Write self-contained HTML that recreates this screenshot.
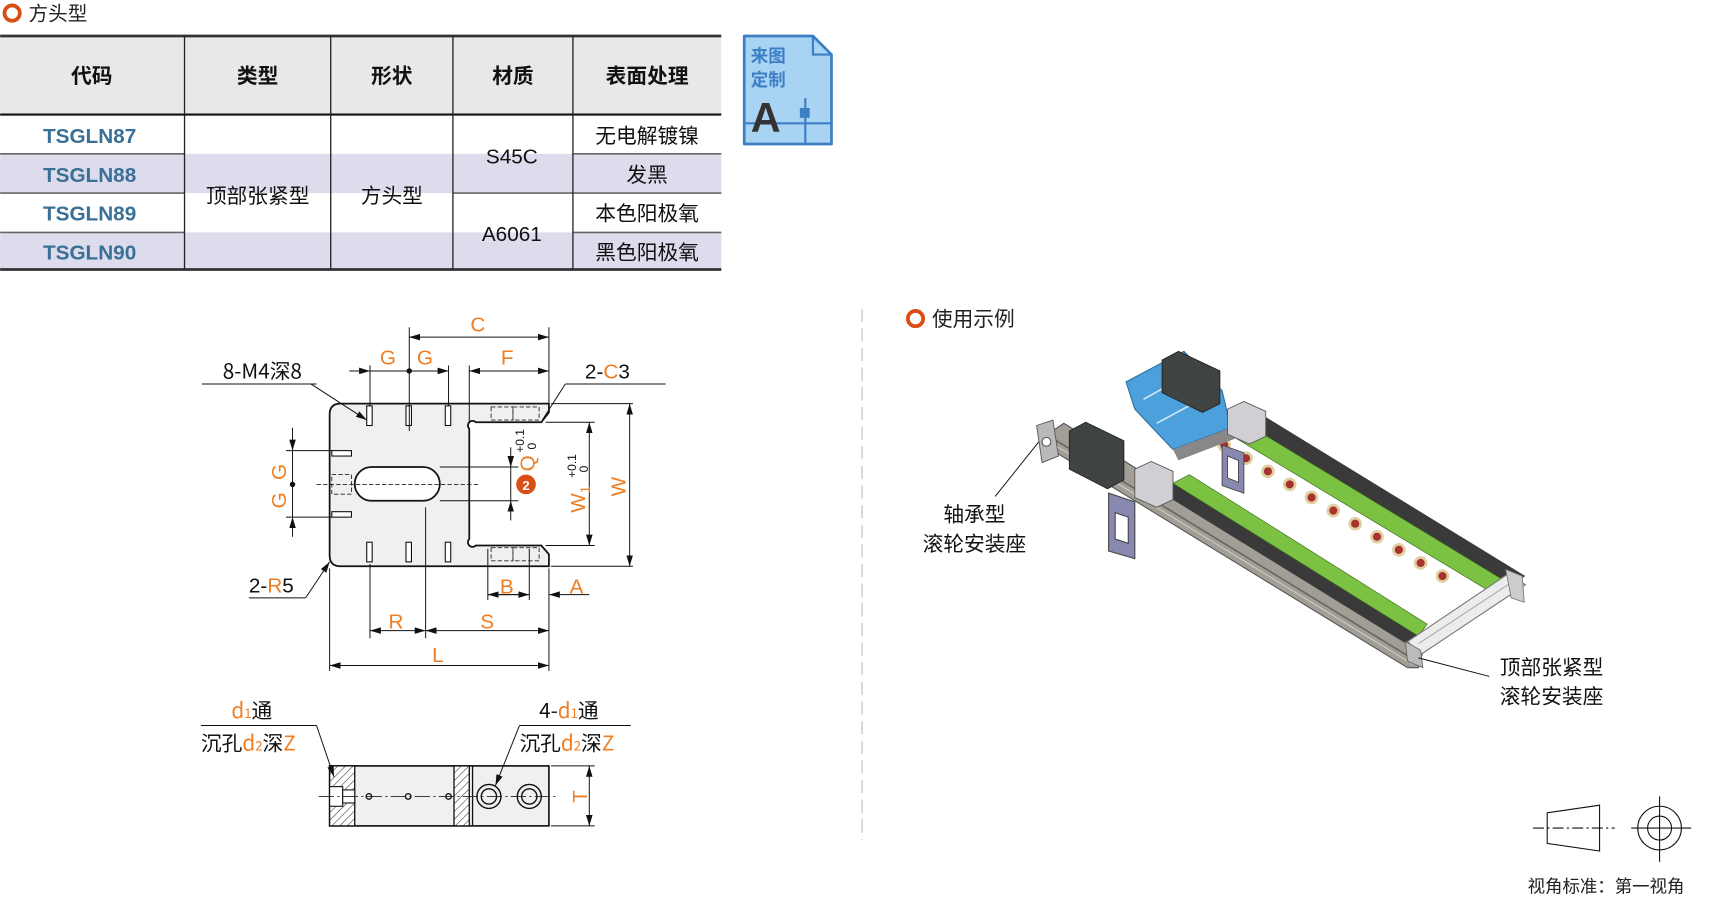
<!DOCTYPE html>
<html><head><meta charset="utf-8"><style>
html,body{margin:0;padding:0;background:#fff;}
svg{display:block;}
text{font-family:"Liberation Sans","Noto Sans CJK SC",sans-serif;}
.cj{font-family:"Noto Sans CJK SC","Liberation Sans",sans-serif;}
</style></head><body>
<svg width="1711" height="899" viewBox="0 0 1568 824" xmlns="http://www.w3.org/2000/svg">
<defs>
<pattern id="h" width="5" height="5" patternUnits="userSpaceOnUse" patternTransform="rotate(45)"><rect width="5" height="5" fill="#fff"/><line x1="0" y1="0" x2="0" y2="5" stroke="#333" stroke-width="1"/></pattern>
<marker id="a" markerWidth="10" markerHeight="6" refX="10" refY="3" orient="auto-start-reverse" markerUnits="userSpaceOnUse"><path d="M0,0 L10,3 L0,6 Z" fill="#111"/></marker>
</defs>
<!-- title -->
<circle cx="11" cy="12" r="7" fill="none" stroke="#d94e14" stroke-width="3.5"/>
<text x="26" y="19" class="cj" font-size="18" fill="#222">方头型</text>
<!-- table -->
<rect x="0" y="33" width="661" height="72" fill="#e8e8e8"/>
<rect x="0" y="141" width="661" height="36" fill="#dcdcec"/>
<rect x="0" y="213" width="661" height="34" fill="#dcdcec"/>
<line x1="0" y1="33" x2="661" y2="33" stroke="#333" stroke-width="2.5"/>
<line x1="0" y1="105" x2="661" y2="105" stroke="#111" stroke-width="2"/>
<line x1="0" y1="247" x2="661" y2="247" stroke="#333" stroke-width="2.5"/>
<g stroke="#666" stroke-width="1.5">
<line x1="0" y1="141" x2="169" y2="141"/><line x1="0" y1="177" x2="169" y2="177"/><line x1="0" y1="213" x2="169" y2="213"/>
<line x1="525" y1="141" x2="661" y2="141"/><line x1="525" y1="177" x2="661" y2="177"/><line x1="525" y1="213" x2="661" y2="213"/>
<line x1="415" y1="177" x2="525" y2="177"/>
</g>
<g stroke="#222" stroke-width="1.2">
<line x1="169" y1="33" x2="169" y2="247"/><line x1="303" y1="33" x2="303" y2="247"/><line x1="415" y1="33" x2="415" y2="247"/><line x1="525" y1="33" x2="525" y2="247"/>
</g>
<g class="cj" font-size="19" fill="#111" text-anchor="middle" font-weight="bold">
<text x="84" y="76">代码</text><text x="236" y="76">类型</text><text x="359" y="76">形状</text><text x="470" y="76">材质</text><text x="593" y="76">表面处理</text>
</g>
<g font-size="19" fill="#3a6f96" text-anchor="middle" font-weight="bold">
<text x="82" y="131">TSGLN87</text><text x="82" y="167">TSGLN88</text><text x="82" y="202">TSGLN89</text><text x="82" y="238">TSGLN90</text>
</g>
<g class="cj" font-size="19" fill="#111" text-anchor="middle">
<text x="236" y="186">顶部张紧型</text><text x="359" y="186">方头型</text>
<text x="469" y="150">S45C</text><text x="469" y="221">A6061</text>
<text x="593" y="131">无电解镀镍</text><text x="593" y="167">发黑</text><text x="593" y="202">本色阳极氧</text><text x="593" y="238">黑色阳极氧</text>
</g>
<!-- icon -->
<path d="M682,33 H745 L762,50 V132 H682 Z" fill="#a9d3f2" stroke="#3d7fc4" stroke-width="2.5" stroke-linejoin="round"/>
<path d="M745,33 V50 H762" fill="none" stroke="#3d7fc4" stroke-width="2"/>
<line x1="682" y1="113" x2="762" y2="113" stroke="#3d7fc4" stroke-width="2"/>
<line x1="738" y1="90" x2="738" y2="132" stroke="#3d7fc4" stroke-width="2"/>
<rect x="733" y="99" width="9" height="9" fill="#3d7fc4"/>
<text x="688" y="57" class="cj" font-size="16" font-weight="bold" fill="#3d7fc4">来图</text>
<text x="688" y="79" class="cj" font-size="16" font-weight="bold" fill="#3d7fc4">定制</text>
<text x="688" y="121" font-size="38" font-weight="bold" fill="#333">A</text>

<!-- plate drawing -->
<path d="M312,370 L503,370 L503,378 L496,387 L436,387 A4,4 0 1 0 430,393 L430,494 A4,4 0 1 0 436,500 L496,500 L503,508 L503,519 L312,519 Q302,519 302,509 L302,380 Q302,370 312,370 Z" fill="#f0f0f0" stroke="#111" stroke-width="1.6"/>
<rect x="325" y="428" width="78" height="31" rx="15.5" fill="#fff" stroke="#111" stroke-width="1.6"/>
<g stroke="#111" stroke-width="1" fill="#fff">
<rect x="336" y="372" width="5" height="18"/><rect x="372" y="372" width="5" height="18"/><rect x="408" y="372" width="5" height="18"/>
<rect x="336" y="497" width="5" height="18"/><rect x="372" y="497" width="5" height="18"/><rect x="408" y="497" width="5" height="18"/>
<rect x="304" y="413" width="18" height="5"/><rect x="304" y="469" width="18" height="5"/>
</g>
<g stroke="#222" stroke-width="0.8" stroke-dasharray="4,2" fill="none">
<rect x="450" y="373" width="20" height="12"/><rect x="470" y="373" width="24" height="12"/>
<rect x="450" y="502" width="20" height="12"/><rect x="470" y="502" width="24" height="12"/>
<rect x="304" y="435" width="18" height="18"/>
<line x1="290" y1="444" x2="440" y2="444"/>
</g>
<!-- dims -->
<g stroke="#111" stroke-width="0.9" fill="none">
<line x1="375" y1="300" x2="375" y2="395"/><line x1="503" y1="300" x2="503" y2="370"/>
<line x1="375" y1="309" x2="503" y2="309" marker-start="url(#a)" marker-end="url(#a)"/>
<line x1="339" y1="335" x2="339" y2="372"/><line x1="411" y1="335" x2="411" y2="372"/><line x1="430" y1="335" x2="430" y2="387"/>
<line x1="320" y1="340" x2="339" y2="340" marker-end="url(#a)"/><line x1="375" y1="340" x2="411" y2="340" marker-end="url(#a)"/><line x1="339" y1="340" x2="375" y2="340"/>
<line x1="430" y1="340" x2="503" y2="340" marker-start="url(#a)" marker-end="url(#a)"/>
<line x1="185" y1="352" x2="290" y2="352"/><line x1="285" y1="352" x2="336" y2="385" marker-end="url(#a)"/>
<line x1="518" y1="352" x2="610" y2="352"/><line x1="518" y1="352" x2="497" y2="385"/>
<line x1="268" y1="392" x2="268" y2="413" marker-end="url(#a)"/><line x1="268" y1="413" x2="268" y2="474"/><line x1="268" y1="492" x2="268" y2="474" marker-end="url(#a)"/>
<line x1="262" y1="413" x2="304" y2="413"/><line x1="262" y1="474" x2="304" y2="474"/>
<line x1="505" y1="370" x2="580" y2="370"/><line x1="505" y1="519" x2="580" y2="519"/>
<line x1="577" y1="370" x2="577" y2="519" marker-start="url(#a)" marker-end="url(#a)"/>
<line x1="500" y1="387" x2="545" y2="387"/><line x1="500" y1="500" x2="545" y2="500"/>
<line x1="540" y1="387" x2="540" y2="500" marker-start="url(#a)" marker-end="url(#a)"/>
<line x1="403" y1="428" x2="475" y2="428"/><line x1="403" y1="459" x2="475" y2="459"/>
<line x1="468" y1="410" x2="468" y2="428" marker-end="url(#a)"/><line x1="468" y1="428" x2="468" y2="459"/><line x1="468" y1="477" x2="468" y2="459" marker-end="url(#a)"/>
<line x1="447" y1="503" x2="447" y2="550"/><line x1="485" y1="503" x2="485" y2="550"/>
<line x1="447" y1="545" x2="485" y2="545" marker-end="url(#a)"/><line x1="447" y1="545" x2="485" y2="545" marker-start="url(#a)"/>
<line x1="540" y1="545" x2="503" y2="545" marker-end="url(#a)"/>
<line x1="339" y1="517" x2="339" y2="585"/><line x1="390" y1="465" x2="390" y2="585"/>
<line x1="339" y1="578" x2="390" y2="578" marker-start="url(#a)" marker-end="url(#a)"/>
<line x1="390" y1="578" x2="503" y2="578" marker-start="url(#a)" marker-end="url(#a)"/>
<line x1="302" y1="521" x2="302" y2="615"/><line x1="503" y1="521" x2="503" y2="615"/>
<line x1="302" y1="610" x2="503" y2="610" marker-start="url(#a)" marker-end="url(#a)"/>
<line x1="228" y1="548" x2="280" y2="548"/><line x1="280" y1="548" x2="302" y2="515" marker-end="url(#a)"/>
</g>
<circle cx="375" cy="340" r="2.5" fill="#111"/><circle cx="268" cy="444" r="2.5" fill="#111"/>
<g font-size="19" fill="#ef7d22">
<text x="431" y="304">C</text><text x="348" y="334">G</text><text x="382" y="334">G</text><text x="459" y="334">F</text>
<text x="458" y="544">B</text><text x="522" y="544">A</text><text x="356" y="576">R</text><text x="440" y="576">S</text><text x="396" y="607">L</text>
<text transform="translate(262,440) rotate(-90)">G</text><text transform="translate(262,466) rotate(-90)">G</text>
<text transform="translate(573,455) rotate(-90)">W</text>
<text transform="translate(536,470) rotate(-90)">W<tspan font-size="12" dy="4">1</tspan></text>
<text transform="translate(490,432) rotate(-90)">Q</text>
</g>
<g font-size="11" fill="#111">
<text transform="translate(480,415) rotate(-90)">+0.1</text><text transform="translate(491,412) rotate(-90)">0</text>
<text transform="translate(528,438) rotate(-90)">+0.1</text><text transform="translate(539,433) rotate(-90)">0</text>
</g>
<circle cx="482" cy="444" r="9" fill="#d94e14"/><text x="482" y="449" font-size="12" font-weight="bold" fill="#fff" text-anchor="middle">2</text>
<text x="204" y="347" class="cj" font-size="19" fill="#111">8-M4深8</text>
<text x="536" y="347" font-size="19" fill="#111">2-<tspan fill="#ef7d22">C</tspan>3</text>
<text x="228" y="543" font-size="19" fill="#111">2-<tspan fill="#ef7d22">R</tspan>5</text>

<!-- side view -->
<rect x="302" y="702" width="201" height="55" fill="#f0f0f0" stroke="#111" stroke-width="1.5"/>
<rect x="302" y="702" width="23" height="55" fill="url(#h)" stroke="#111" stroke-width="1.2"/>
<rect x="416" y="702" width="14" height="55" fill="url(#h)" stroke="#111" stroke-width="1.2"/>
<line x1="433" y1="702" x2="433" y2="757" stroke="#111" stroke-width="1.2"/>
<rect x="302" y="721" width="12" height="18" fill="#fff" stroke="#111"/>
<rect x="314" y="724" width="11" height="12" fill="#fff" stroke="#111"/>
<line x1="292" y1="730" x2="512" y2="730" stroke="#222" stroke-width="0.7" stroke-dasharray="14,3,2,3"/>
<g fill="none" stroke="#111" stroke-width="1.3">
<circle cx="448" cy="730" r="11"/><circle cx="448" cy="730" r="7"/><circle cx="485" cy="730" r="11"/><circle cx="485" cy="730" r="7"/>
<circle cx="338" cy="730" r="2.5"/><circle cx="374" cy="730" r="2.5"/><circle cx="411" cy="730" r="2.5"/>
</g>
<g stroke="#111" stroke-width="0.9" fill="none">
<line x1="505" y1="702" x2="545" y2="702"/><line x1="505" y1="757" x2="545" y2="757"/>
<line x1="540" y1="702" x2="540" y2="757" marker-start="url(#a)" marker-end="url(#a)"/>
<line x1="184" y1="665" x2="290" y2="665"/><line x1="290" y1="665" x2="306" y2="712" marker-end="url(#a)"/>
<line x1="476" y1="665" x2="578" y2="665"/><line x1="476" y1="665" x2="454" y2="720" marker-end="url(#a)"/>
</g>
<text transform="translate(538,730) rotate(-90)" font-size="19" fill="#ef7d22" text-anchor="middle">T</text>
<text x="212" y="658" class="cj" font-size="19" fill="#111"><tspan fill="#ef7d22">d</tspan><tspan fill="#ef7d22" font-size="12">1</tspan>通</text>
<text x="184" y="688" class="cj" font-size="19" fill="#111">沉孔<tspan fill="#ef7d22">d</tspan><tspan fill="#ef7d22" font-size="12">2</tspan>深<tspan fill="#ef7d22">Z</tspan></text>
<text x="494" y="658" class="cj" font-size="19" fill="#111">4-<tspan fill="#ef7d22">d</tspan><tspan fill="#ef7d22" font-size="12">1</tspan>通</text>
<text x="476" y="688" class="cj" font-size="19" fill="#111">沉孔<tspan fill="#ef7d22">d</tspan><tspan fill="#ef7d22" font-size="12">2</tspan>深<tspan fill="#ef7d22">Z</tspan></text>

<!-- right side -->
<line x1="790" y1="283" x2="790" y2="770" stroke="#bbb" stroke-width="1" stroke-dasharray="12,6"/>
<circle cx="839" cy="292" r="7" fill="none" stroke="#d94e14" stroke-width="3.5"/>
<text x="854" y="299" class="cj" font-size="19" fill="#222">使用示例</text>
<!-- machine -->
<!-- far dark rail & green -->
<polygon points="1125,378 1140,370 1398,528 1385,536" fill="#3a3a3a"/>
<polygon points="1110,388 1125,378 1385,536 1372,546" fill="#7cc242" stroke="#3d6b1f" stroke-width="0.6"/>
<g fill="#a8322d" stroke="#e0cfa0" stroke-width="2.5">
<circle cx="1122" cy="408" r="5"/><circle cx="1142" cy="420" r="5"/><circle cx="1162" cy="432" r="5"/><circle cx="1182" cy="444" r="5"/><circle cx="1202" cy="456" r="5"/><circle cx="1222" cy="468" r="5"/><circle cx="1242" cy="480" r="5"/><circle cx="1262" cy="492" r="5"/><circle cx="1282" cy="504" r="5"/><circle cx="1302" cy="516" r="5"/><circle cx="1322" cy="528" r="5"/>
</g>
<!-- front rail -->
<polygon points="960,398 975,388 1305,594 1300,612 1290,612 960,410" fill="#a29e96" stroke="#555" stroke-width="1"/>
<line x1="965" y1="402" x2="1295" y2="604" stroke="#6a665f" stroke-width="1.5"/>
<line x1="965" y1="407" x2="1295" y2="609" stroke="#d0ccc4" stroke-width="1"/>
<!-- near dark + green -->
<polygon points="1062,450 1075,443 1300,583 1292,592" fill="#3a3a3a"/>
<polygon points="1075,443 1090,435 1308,572 1300,583" fill="#7cc242" stroke="#3d6b1f" stroke-width="0.6"/>
<!-- end crossbar -->
<polygon points="1290,588 1382,526 1398,536 1302,600" fill="#ececec" stroke="#777" stroke-width="1"/>
<line x1="1300" y1="590" x2="1388" y2="532" stroke="#aaa" stroke-width="1"/>
<polygon points="1380,522 1395,528 1397,552 1385,548" fill="#ccc" stroke="#777" stroke-width="0.8"/>
<polygon points="1288,588 1302,596 1304,612 1290,606" fill="#bbb" stroke="#666" stroke-width="0.8"/>
<!-- left end plate -->
<polygon points="950,390 965,385 970,418 955,424" fill="#b9b9b9" stroke="#555" stroke-width="0.8"/>
<circle cx="959" cy="405" r="4" fill="#fff" stroke="#555"/>
<!-- head: blue block -->
<polygon points="1032,350 1085,322 1120,358 1128,392 1075,412 1040,375" fill="#4ca0dc" stroke="#2a6fa0" stroke-width="1"/>
<line x1="1048" y1="366" x2="1098" y2="338" stroke="#cfe8f8" stroke-width="1.5"/><line x1="1060" y1="388" x2="1112" y2="360" stroke="#cfe8f8" stroke-width="1.5"/>
<polygon points="1075,412 1128,392 1132,402 1080,422" fill="#888"/>
<!-- motors -->
<polygon points="1065,330 1080,322 1118,340 1118,370 1102,378 1065,360" fill="#3f4342" stroke="#222" stroke-width="0.8"/>
<polygon points="980,395 995,387 1030,404 1030,440 1015,448 980,430" fill="#3f4342" stroke="#222" stroke-width="0.8"/>
<!-- grey blocks -->
<polygon points="1040,430 1055,423 1075,432 1075,458 1060,465 1040,456" fill="#d0d0d4" stroke="#555" stroke-width="0.8"/>
<polygon points="1125,375 1140,368 1160,377 1160,400 1145,407 1125,398" fill="#d0d0d4" stroke="#555" stroke-width="0.8"/>
<!-- purple brackets -->
<path d="M1016,452 L1040,460 L1040,512 L1016,505 Z M1022,470 L1034,474 L1034,498 L1022,494 Z" fill="#8888b0" fill-rule="evenodd" stroke="#444" stroke-width="1"/>
<path d="M1120,408 L1140,415 L1140,452 L1120,445 Z M1125,418 L1135,422 L1135,442 L1125,438 Z" fill="#8888b0" fill-rule="evenodd" stroke="#444" stroke-width="0.8"/>
<g stroke="#111" stroke-width="0.9">
<line x1="952" y1="405" x2="912" y2="455"/><line x1="1300" y1="603" x2="1365" y2="620"/>
</g>
<g class="cj" font-size="19" fill="#111" text-anchor="middle">
<text x="893" y="478">轴承型</text><text x="893" y="505">滚轮安装座</text>
<text x="1422" y="618">顶部张紧型</text><text x="1422" y="645">滚轮安装座</text>
</g>
<!-- projection symbol -->
<g stroke="#111" stroke-width="1" fill="none">
<polygon points="1418,745 1466,738 1466,780 1418,773"/>
<line x1="1405" y1="759" x2="1480" y2="759" stroke-dasharray="10,3,2,3"/>
<circle cx="1521" cy="759" r="20"/><circle cx="1521" cy="759" r="11"/>
<line x1="1495" y1="759" x2="1550" y2="759"/><line x1="1521" y1="730" x2="1521" y2="790"/>
</g>
<text x="1400" y="818" class="cj" font-size="16" fill="#222">视角标准：第一视角</text>
</svg>
</body></html>
